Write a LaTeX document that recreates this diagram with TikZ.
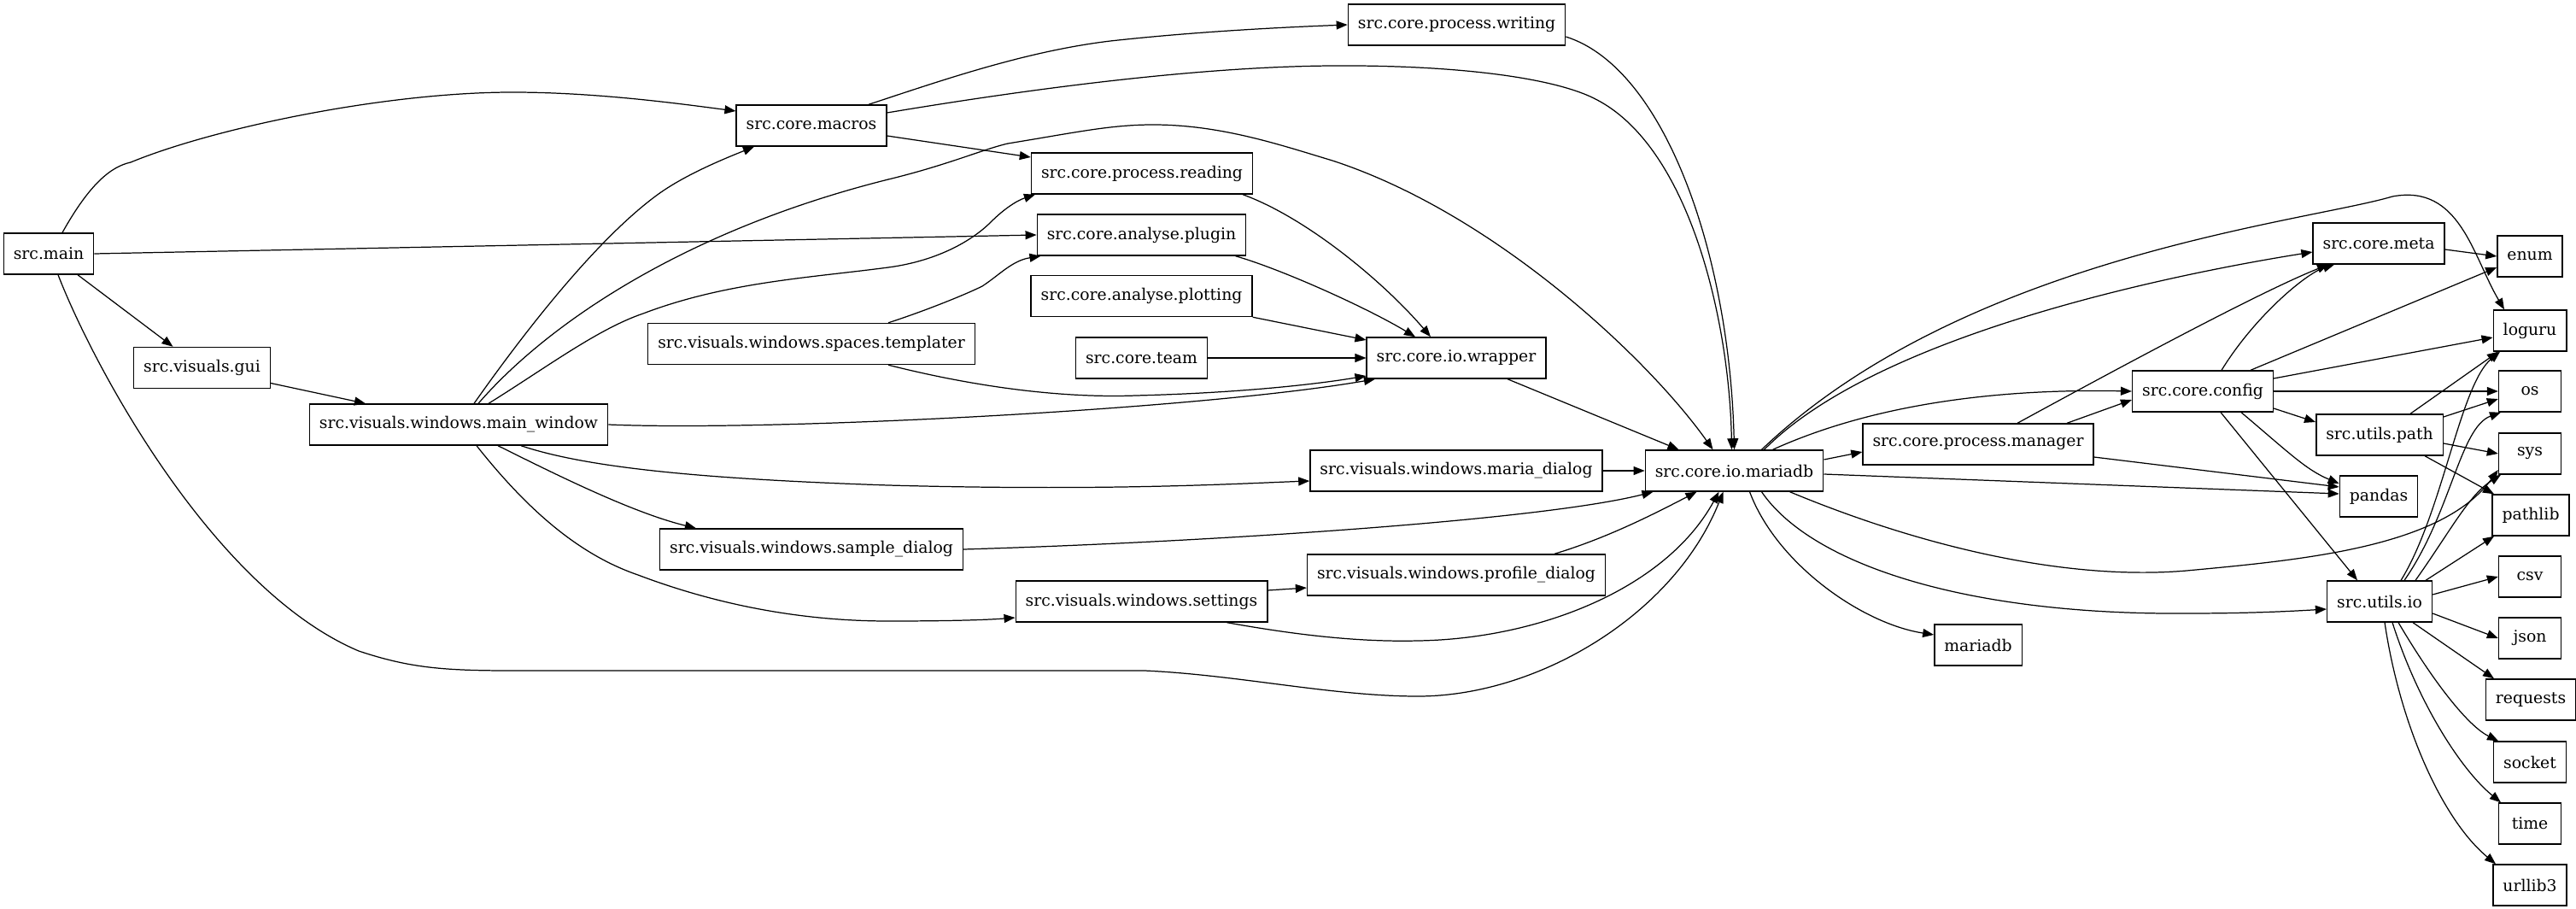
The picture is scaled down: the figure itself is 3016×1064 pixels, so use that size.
\documentclass[tikz,border=0pt]{standalone}
\usepackage{fontspec}
\setmainfont{DejaVu Serif}
\usetikzlibrary{arrows.meta}
\begin{document}
\begin{tikzpicture}[x=0.01cm,y=-0.01cm,
  mod/.style={draw,rectangle,line width=0.4pt,inner xsep=0.115cm,inner ysep=0pt,
    minimum height=0.48cm,minimum width=0.73cm,font=\fontsize{5.35}{6}\selectfont},
  dep/.style={line width=0.35pt,-{Triangle[length=0.13cm,width=0.1cm]}}]
\useasboundingbox (0,0) rectangle (3016,1064);
% nodes
\node[mod] (nmain) at (57,297) {src.main};
\node[mod] (ngui) at (236.5,430.5) {src.visuals.gui};
\node[mod] (nmw) at (537,497) {src.visuals.windows.main\_window};
\node[mod] (nmacros) at (950,147) {src.core.macros};
\node[mod] (ntempl) at (950,402.5) {src.visuals.windows.spaces.templater};
\node[mod] (nsample) at (950,643) {src.visuals.windows.sample\_dialog};
\node[mod] (nread) at (1337,203) {src.core.process.reading};
\node[mod] (nplugin) at (1336.5,275) {src.core.analyse.plugin};
\node[mod] (nplot) at (1336.5,346.5) {src.core.analyse.plotting};
\node[mod] (nteam) at (1336.5,419) {src.core.team};
\node[mod] (nsettings) at (1336.5,704) {src.visuals.windows.settings};
\node[mod] (nwriting) at (1705.5,29) {src.core.process.writing};
\node[mod] (nwrapper) at (1705,419) {src.core.io.wrapper};
\node[mod] (nmaria) at (1705,551) {src.visuals.windows.maria\_dialog};
\node[mod] (nprofile) at (1705,673) {src.visuals.windows.profile\_dialog};
\node[mod] (nio) at (2030.5,551) {src.core.io.mariadb};
\node[mod] (nmanager) at (2316,520) {src.core.process.manager};
\node[mod] (next) at (2316,755) {mariadb};
\node[mod] (nconfig) at (2579,458) {src.core.config};
\node[mod] (nmeta) at (2785,285) {src.core.meta};
\node[mod] (npath) at (2786,509) {src.utils.path};
\node[mod] (npandas) at (2785,581) {pandas};
\node[mod] (nuio) at (2786,704) {src.utils.io};
\node[mod] (nenum) at (2962,300) {enum};
\node[mod] (nloguru) at (2962,387) {loguru};
\node[mod] (nos) at (2962,458) {os};
\node[mod] (nsys) at (2962,531) {sys};
\node[mod] (npathlib) at (2963,603) {pathlib};
\node[mod] (ncsv) at (2962,675) {csv};
\node[mod] (njson) at (2962,747) {json};
\node[mod] (nreq) at (2963,819) {requests};
\node[mod] (nsocket) at (2962,892) {socket};
\node[mod] (ntime) at (2962,964) {time};
\node[mod] (nurl) at (2962,1036) {urllib3};
% left edges
\draw[dep] ([xshift=0.16cm]nmain.north) .. controls (105,215) and (130,195) .. (153,190)
  .. controls (250,150) and (450,108) .. (600,108) .. controls (700,108) and (800,122) .. ([yshift=0.17cm]nmacros.west);
\draw[dep] (nmain.east) -- (nplugin.west);
\draw[dep] ([xshift=0.34cm]nmain.south) -- ([xshift=-0.34cm]ngui.north);
\draw[dep] ([xshift=0.11cm]nmain.south) .. controls (110,430) and (250,690) .. (420,762)
  .. controls (480,782) and (520,785) .. (600,785) -- (1340,785)
  .. controls (1450,790) and (1560,815) .. (1660,815) .. controls (1800,815) and (1960,720) .. ([xshift=-0.13cm]nio.south);
\draw[dep] ([yshift=-0.18cm]ngui.east) -- ([xshift=-1.09cm]nmw.north);
\draw[dep] ([xshift=0.18cm]nmw.north) .. controls (620,380) and (700,280) .. (767,230)
  .. controls (800,205) and (850,185) .. ([xshift=-0.67cm]nmacros.south);
\draw[dep] ([xshift=0.23cm]nmw.north) .. controls (640,380) and (800,270) .. (1040,210)
  .. controls (1110,193) and (1150,175) .. (1180,168) .. controls (1260,155) and (1300,146) .. (1350,146)
  .. controls (1430,146) and (1500,170) .. (1560,188) .. controls (1750,250) and (1930,420) .. ([xshift=-0.25cm]nio.north);
\draw[dep] ([xshift=0.35cm]nmw.north) .. controls (640,430) and (700,385) .. (753,367)
  .. controls (850,330) and (950,325) .. (1040,313) .. controls (1100,305) and (1140,280) .. (1160,260)
  .. controls (1175,245) and (1190,235) .. ([xshift=-1.25cm]nread.south);
\draw[dep] ([xshift=0.9cm]ntempl.north) .. controls (1080,365) and (1130,345) .. (1150,335)
  .. controls (1170,322) and (1185,305) .. ([xshift=-1.18cm]nplugin.south);
\draw[dep] ([xshift=0.9cm]ntempl.south) .. controls (1150,455) and (1250,466) .. (1330,463)
  .. controls (1450,460) and (1540,450) .. ([yshift=-0.21cm]nwrapper.west);
\draw[dep] (nmw.east) .. controls (900,505) and (1400,480) .. ([xshift=-0.95cm]nwrapper.south);
\draw[dep] ([xshift=0.67cm]nmacros.north) .. controls (1100,95) and (1200,60) .. (1300,48)
  .. controls (1400,37) and (1500,32) .. (nwriting.west);
\draw[dep] ([yshift=0.15cm]nmacros.east) .. controls (1200,105) and (1400,78) .. (1560,77)
  .. controls (1700,76) and (1820,90) .. (1870,117) .. controls (1980,175) and (2025,380) .. ([xshift=-0.03cm]nio.north);
\draw[dep] ([yshift=-0.14cm]nwriting.east) .. controls (1950,80) and (2025,300) .. (nio.north);
\draw[dep] ([yshift=-0.12cm]nmacros.east) -- ([yshift=0.19cm]nread.west);
\draw[dep] ([xshift=1.18cm]nread.south) .. controls (1530,255) and (1620,330) .. ([xshift=-0.3cm]nwrapper.north);
\draw[dep] ([xshift=1.1cm]nplugin.south) .. controls (1500,315) and (1600,360) .. ([xshift=-0.48cm]nwrapper.north);
\draw[dep] (nplot.south east) -- ([yshift=0.21cm]nwrapper.west);
\draw[dep] (nteam.east) -- (nwrapper.west);
\draw[dep] ([xshift=0.6cm]nwrapper.south) -- ([xshift=-0.65cm]nio.north);
\draw[dep] ([xshift=0.73cm]nmw.south) .. controls (680,545) and (800,560) .. (1040,568)
  .. controls (1300,575) and (1450,566) .. ([yshift=-0.12cm]nmaria.west);
\draw[dep] (nmaria.east) -- (nio.west);
\draw[dep] ([xshift=0.46cm]nmw.south) .. controls (650,555) and (740,600) .. ([xshift=-1.35cm]nsample.north);
\draw[dep] ([xshift=0.21cm]nmw.south) .. controls (620,600) and (680,650) .. (747,673)
  .. controls (850,712) and (950,727) .. (1040,727) .. controls (1100,727) and (1150,726) .. ([yshift=-0.19cm]nsettings.west);
\draw[dep] (nsample.east) .. controls (1400,635) and (1800,610) .. ([xshift=-0.95cm]nio.south);
\draw[dep] ([yshift=0.13cm]nsettings.east) -- ([yshift=-0.15cm]nprofile.west);
\draw[dep] ([xshift=1.15cm]nprofile.north) .. controls (1880,630) and (1930,605) .. ([xshift=-0.44cm]nio.south);
\draw[dep] ([xshift=1.0cm]nsettings.south) .. controls (1500,740) and (1580,752) .. (1660,750)
  .. controls (1800,748) and (1950,690) .. ([xshift=-0.18cm]nio.south);
% right edges
\draw[dep] ([yshift=0.13cm]nio.east) -- ([yshift=-0.09cm]nmanager.west);
\draw[dep] ([xshift=0.35cm]nio.north) .. controls (2200,390) and (2550,320) .. ([yshift=-0.1cm]nmeta.west);
\draw[dep] ([xshift=0.32cm]nio.north) .. controls (2300,300) and (2700,260) .. (2801,230)
  .. controls (2880,215) and (2895,300) .. ([xshift=-0.3cm]nloguru.north);
\draw[dep] ([xshift=0.45cm]nio.north) .. controls (2200,470) and (2350,455) .. (nconfig.west);
\draw[dep] ([yshift=-0.04cm]nio.east) -- ([yshift=0.03cm]npandas.west);
\draw[dep] ([xshift=0.65cm]nio.south) .. controls (2250,640) and (2420,680) .. (2560,668)
  .. controls (2700,655) and (2860,640) .. ([yshift=-0.19cm]nsys.west);
\draw[dep] ([xshift=0.18cm]nio.south) .. controls (2080,660) and (2180,730) .. ([yshift=0.12cm]next.west);
\draw[dep] ([xshift=0.32cm]nio.south) .. controls (2120,660) and (2300,720) .. (2560,718)
  .. controls (2640,718) and (2690,715) .. ([yshift=-0.09cm]nuio.west);
\draw[dep] ([xshift=0.46cm]nmanager.north) .. controls (2500,420) and (2650,340) .. ([xshift=-0.59cm]nmeta.south);
\draw[dep] ([xshift=1.04cm]nmanager.north) -- ([yshift=-0.1cm]nconfig.west);
\draw[dep] ([yshift=-0.15cm]nmanager.east) -- ([yshift=0.11cm]npandas.west);
\draw[dep] ([xshift=0.22cm]nconfig.north) .. controls (2640,370) and (2700,320) .. ([xshift=-0.52cm]nmeta.south);
\draw[dep] ([xshift=0.56cm]nconfig.north) -- ([yshift=-0.13cm]nenum.west);
\draw[dep] ([yshift=0.15cm]nconfig.east) -- ([yshift=-0.08cm]nloguru.west);
\draw[dep] (nconfig.east) -- (nos.west);
\draw[dep] ([yshift=-0.2cm]nconfig.east) -- ([yshift=0.15cm]npath.west);
\draw[dep] ([xshift=0.45cm]nconfig.south) .. controls (2680,530) and (2700,550) .. ([yshift=0.15cm]npandas.west);
\draw[dep] ([xshift=0.21cm]nconfig.south) -- ([xshift=-0.26cm]nuio.north);
\draw[dep] ([yshift=-0.07cm]nmeta.east) -- (nenum.west);
\draw[dep] ([xshift=0.36cm]npath.north) -- ([xshift=-0.37cm]nloguru.south);
\draw[dep] ([yshift=0.21cm]npath.east) -- ([yshift=-0.09cm]nos.west);
\draw[dep] ([yshift=-0.1cm]npath.east) -- (nsys.west);
\draw[dep] ([xshift=0.53cm]npath.south) -- ([xshift=-0.43cm]npathlib.north);
\draw[dep] ([xshift=0.25cm]nuio.north) .. controls (2860,600) and (2880,450) .. ([xshift=-0.35cm]nloguru.south);
\draw[dep] ([xshift=0.29cm]nuio.north) .. controls (2870,600) and (2880,500) .. ([xshift=-0.34cm]nos.south);
\draw[dep] ([xshift=0.42cm]nuio.north) .. controls (2870,620) and (2890,580) .. ([xshift=-0.34cm]nsys.south);
\draw[dep] ([xshift=0.54cm]nuio.north) -- ([xshift=-0.43cm]npathlib.south);
\draw[dep] ([yshift=0.08cm]nuio.east) -- (ncsv.west);
\draw[dep] ([yshift=-0.14cm]nuio.east) -- (njson.west);
\draw[dep] ([xshift=0.39cm]nuio.south) -- ([xshift=-0.43cm]nreq.north);
\draw[dep] ([xshift=0.22cm]nuio.south) .. controls (2850,800) and (2890,850) .. ([xshift=-0.37cm]nsocket.north);
\draw[dep] ([xshift=0.15cm]nuio.south) .. controls (2830,820) and (2880,900) .. ([xshift=-0.34cm]ntime.north);
\draw[dep] ([xshift=0.06cm]nuio.south) .. controls (2810,850) and (2860,960) .. ([xshift=-0.4cm]nurl.north);
\end{tikzpicture}
\end{document}
